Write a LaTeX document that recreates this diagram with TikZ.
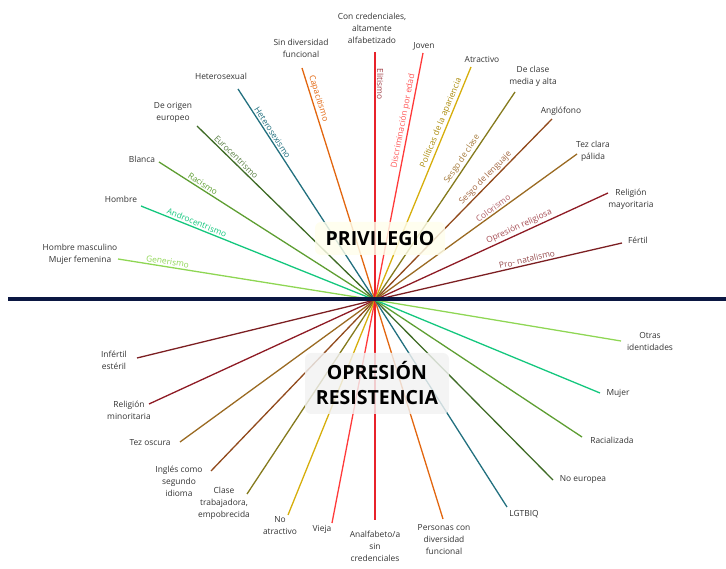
\documentclass[tikz,border=0pt]{standalone}
\usepackage{fontspec}
\setmainfont{Open Sans}

\definecolor{navy}{HTML}{0B1742}
\definecolor{gen}{HTML}{8ED653}
\definecolor{andro}{HTML}{14C77E}
\definecolor{raci}{HTML}{5E9E32}
\definecolor{euro}{HTML}{3F6B26}
\definecolor{hetero}{HTML}{22707F}
\definecolor{capa}{HTML}{E2660F}
\definecolor{elit}{HTML}{E8232B}
\definecolor{edad}{HTML}{FF3A3A}
\definecolor{apar}{HTML}{D6AE0C}
\definecolor{clase}{HTML}{857A1D}
\definecolor{lengua}{HTML}{914A1C}
\definecolor{colorism}{HTML}{9A6A22}
\definecolor{relig}{HTML}{8E1B24}
\definecolor{natal}{HTML}{7C1F22}

\tikzset{
  lbl/.style={align=center, font=\fontsize{8.4}{12}\selectfont, text=black!80, inner sep=1pt},
  ray/.style={line width=1.3pt},
  tag/.style={sloped, above, font=\fontsize{8.4}{10}\selectfont, inner sep=1.5pt},
  bigbox/.style={rounded corners=6pt, font=\fontsize{19.5}{25}\selectfont\bfseries, align=center, fill opacity=0.82, text opacity=1}
}

\begin{document}
\begin{tikzpicture}[x=1pt,y=-1pt]
    \useasboundingbox (0,0) rectangle (726,569);
    \coordinate (c) at (375,300);

    % privilegio (arriba)
    \node[lbl] at (80,254)  (hombremujer) {Hombre masculino\\Mujer femenina};
    \node[lbl] at (121,199) (hombre)   {Hombre};
    \node[lbl] at (142,159) (blanca)   {Blanca};
    \node[lbl] at (173,112) (europeo)  {De origen\\europeo};
    \node[lbl] at (221,76)  (heterosx) {Heterosexual};
    \node[lbl] at (301,48)  (sindiv)   {Sin diversidad\\funcional};
    \node[lbl] at (372,28)  (credenc)  {Con credenciales,\\altamente\\alfabetizado};
    \node[lbl] at (424,46)  (joven)    {Joven};
    \node[lbl] at (482,59)  (atract)   {Atractivo};
    \node[lbl] at (533,76)  (mediaalta) {De clase\\media y alta};
    \node[lbl] at (561,111) (anglo)    {Anglófono};
    \node[lbl] at (593,151) (tezclara) {Tez clara\\pálida};
    \node[lbl] at (631,199) (relmay)   {Religión\\mayoritaria};
    \node[lbl] at (638,240) (fertil)   {Fértil};

    \coordinate (hombremujer-e) at (118,259);
    \coordinate (hombre-e)   at (141,206);
    \coordinate (blanca-e)   at (159,162);
    \coordinate (europeo-e)  at (197,126);
    \coordinate (heterosx-e) at (238,89);
    \coordinate (sindiv-e)   at (302,68);
    \coordinate (credenc-e)  at (375,52);
    \coordinate (joven-e)    at (423,53);
    \coordinate (atract-e)   at (471,67);
    \coordinate (mediaalta-e) at (515,92);
    \coordinate (anglo-e)    at (552,119);
    \coordinate (tezclara-e) at (577,154);
    \coordinate (relmay-e)   at (608,193);
    \coordinate (fertil-e)   at (622,243);

    % opresion (abajo)
    \node[lbl] at (114,360) (infertil) {Infértil\\estéril};
    \node[lbl] at (129,410) (relmin)   {Religión\\minoritaria};
    \node[lbl] at (150,443) (tezosc)   {Tez oscura};
    \node[lbl] at (179,481) (ingles)   {Inglés como\\segundo\\idioma};
    \node[lbl] at (224,503) (trabaj)   {Clase\\trabajadora,\\empobrecida};
    \node[lbl] at (280,526) (noatract) {No\\atractivo};
    \node[lbl] at (322,529) (vieja)    {Vieja};
    \node[lbl] at (375,546) (analfab)  {Analfabeto/a\\sin\\credenciales};
    \node[lbl] at (444,540) (condiv)   {Personas con\\diversidad\\funcional};
    \node[lbl] at (524,514) (lgtbiq)   {LGTBIQ};
    \node[lbl] at (583,480) (noeuro)   {No europea};
    \node[lbl] at (612,440) (racial)   {Racializada};
    \node[lbl] at (618,393) (mujer)    {Mujer};
    \node[lbl] at (650,341) (otras)    {Otras\\identidades};

    \coordinate (infertil-e) at (137,358);
    \coordinate (relmin-e)   at (149,404);
    \coordinate (tezosc-e)   at (180,442);
    \coordinate (ingles-e)   at (211,471);
    \coordinate (trabaj-e)   at (247,494);
    \coordinate (noatract-e) at (288,515);
    \coordinate (vieja-e)    at (332,523);
    \coordinate (analfab-e)  at (375,520);
    \coordinate (condiv-e)   at (443,519);
    \coordinate (lgtbiq-e)   at (507,507);
    \coordinate (noeuro-e)   at (553,480);
    \coordinate (racial-e)   at (582,437);
    \coordinate (mujer-e)    at (600,393);
    \coordinate (otras-e)    at (621,341);

    \draw[ray, natal]  (c) -- (infertil-e);
    \draw[ray, relig]  (c) -- (relmin-e);
    \draw[ray, colorism] (c) -- (tezosc-e);
    \draw[ray, lengua] (c) -- (ingles-e);
    \draw[ray, clase]  (c) -- (trabaj-e);
    \draw[ray, apar]   (c) -- (noatract-e);
    \draw[ray, edad]   (c) -- (vieja-e);
    \draw[ray, elit]   (c) -- (analfab-e);
    \draw[ray, capa]   (c) -- (condiv-e);
    \draw[ray, hetero] (c) -- (lgtbiq-e);
    \draw[ray, euro]   (c) -- (noeuro-e);
    \draw[ray, raci]   (c) -- (racial-e);
    \draw[ray, andro]  (c) -- (mujer-e);
    \draw[ray, gen]    (c) -- (otras-e);

    \draw[ray, gen]    (c) -- (hombremujer-e) node[tag, pos=0.81, text=gen] {Generismo};
    \draw[ray, andro]  (c) -- (hombre-e) node[tag, pos=0.77, text=andro] {Androcentrismo};
    \draw[ray, raci]   (c) -- (blanca-e) node[tag, pos=0.81, text=raci] {Racismo};
    \draw[ray, euro]   (c) -- (europeo-e) node[tag, pos=0.80, text=euro!85!white] {Eurocentrismo};
    \draw[ray, hetero] (c) -- (heterosx-e) node[tag, pos=0.78, text=hetero] {Heterosexismo};
    \draw[ray, capa]   (c) -- (sindiv-e) node[tag, pos=0.86, text=capa] {Capacitismo};
    \draw[ray, elit]   (credenc-e) -- (c) node[tag, pos=0.13, text=relig!85!white] {Elitismo};
    \draw[ray, edad]   (c) -- (joven-e) node[tag, pos=0.72, text=edad!85!white] {Discriminación por edad};
    \draw[ray, apar]   (c) -- (atract-e) node[tag, pos=0.75, text=apar!80!black] {Políticas de la apariencia};
    \draw[ray, clase]  (c) -- (mediaalta-e) node[tag, pos=0.66, text=colorism!90!white] {Sesgo de clase};
    \draw[ray, lengua] (c) -- (anglo-e) node[tag, pos=0.65, text=lengua!85!white] {Sesgo de lenguaje};
    \draw[ray, colorism] (c) -- (tezclara-e) node[tag, pos=0.60, text=relig!70!white] {Colorismo};
    \draw[ray, relig]  (c) -- (relmay-e) node[tag, pos=0.63, text=relig!80!white] {Opresión religiosa};
    \draw[ray, natal]  (c) -- (fertil-e) node[tag, pos=0.62, text=natal!80!white] {Pro- natalismo};

    \node[bigbox, fill=yellow!8, minimum width=130pt, minimum height=33pt] at (380,238.5) (privilegio) {PRIVILEGIO};
    \node[bigbox, fill=black!5, minimum width=144pt, minimum height=61pt] at (377,383.5) (opresion) {OPRESIÓN\\RESISTENCIA};

    \coordinate (eje-l) at (8,299.5);
    \coordinate (eje-r) at (726,299.5);
    \draw[navy, line width=4pt] (eje-l) -- (eje-r);
\end{tikzpicture}
\end{document}
